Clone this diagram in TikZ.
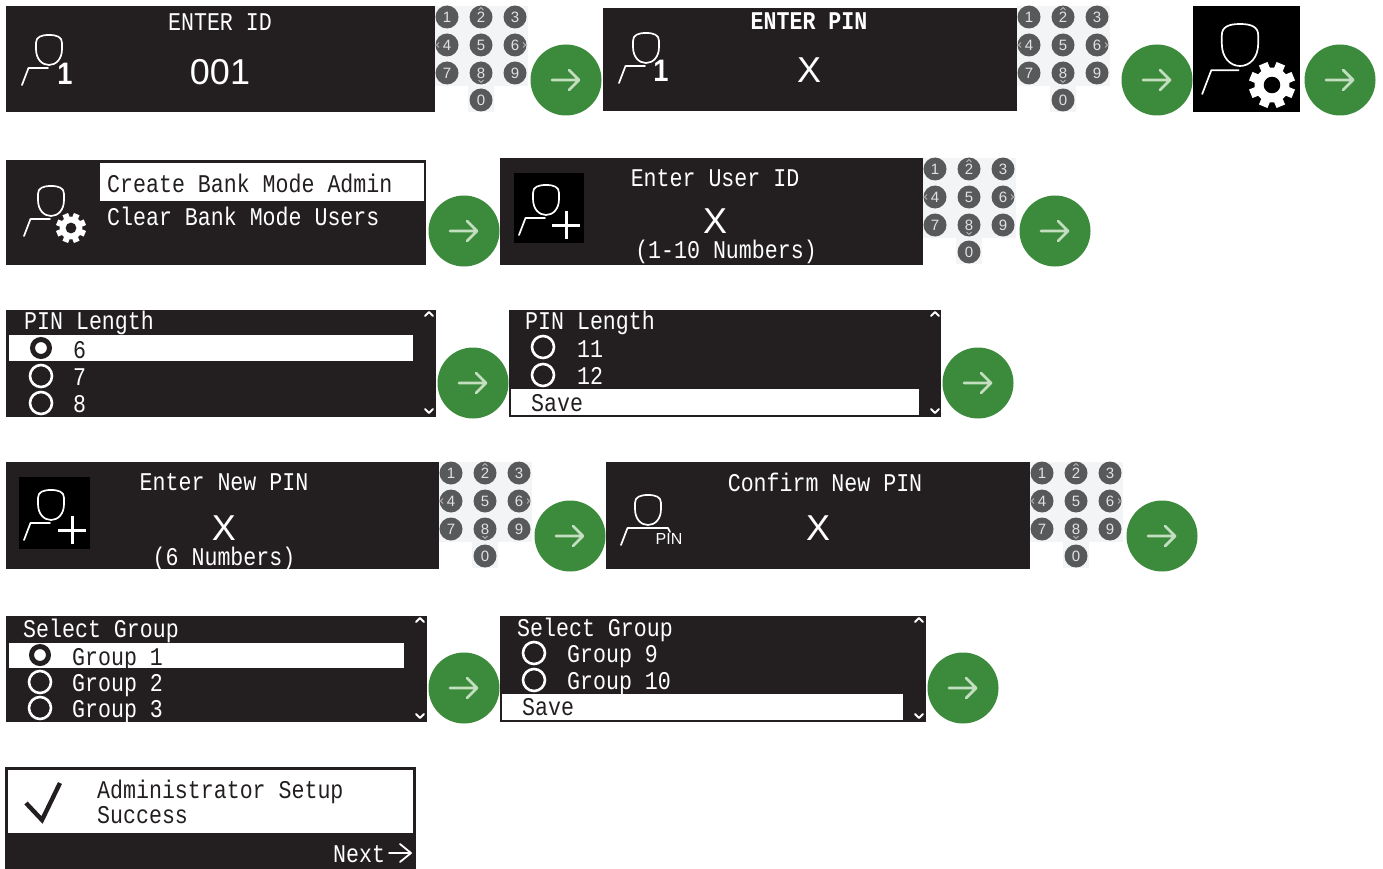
\documentclass[tikz,border=0pt]{standalone}
\usepackage{fontspec}
\setmainfont{Liberation Sans}
\newfontfamily\monof{Liberation Mono}
\definecolor{scr}{HTML}{231F20}
\definecolor{grn}{HTML}{3C8A3C}
\definecolor{arr}{HTML}{C4DFC0}
\definecolor{padbg}{HTML}{F2F4F5}
\definecolor{keyc}{HTML}{58595B}
\definecolor{dig}{HTML}{E2E2E2}
\newcounter{tn}
\tikzset{
  x=1pt,y=-1pt,
  screen/.style={fill=scr},
  hilite/.style={fill=white},
  monot/.style={font=\monof\fontsize{21.6}{24}\selectfont,inner sep=0pt,yscale=1.18,transform shape},
  bigt/.style={font=\fontsize{36}{40}\selectfont,inner sep=0pt,text=white},
  onet/.style={font=\bfseries\fontsize{31}{33}\selectfont,text=white,inner sep=0pt,xscale=.88,transform shape},
  ico/.style={draw=white,line width=1.7pt,line cap=round,line join=round},
  radio/.style={draw=white,line width=2.6pt},
  radiosel/.style={draw=scr,line width=5pt,fill=white},
  caret/.style={draw=white,line width=1.9pt,line cap=round,line join=round},
  keyt/.style={font=\fontsize{15}{16}\selectfont,inner sep=0pt,text=dig},
}
\newcommand\ml[4][white]{\stepcounter{tn}\node[monot,text=#1,anchor=base west] (t\arabic{tn}) at (#2,#3+8) {#4};}
\newcommand\mc[3]{\stepcounter{tn}\node[monot,text=white,anchor=base] (t\arabic{tn}) at (#1,#2+8) {#3};}
\newcommand\bigc[3]{\stepcounter{tn}\node[bigt,anchor=base] (t\arabic{tn}) at (#1,#2+13) {#3};}
\newcommand\person[3]{\begin{scope}[shift={(#1,#2)},scale=#3]
 \draw[ico] (-13,8) .. controls (-13,2) and (-8,0) .. (0,0) .. controls (8,0) and (13,2) .. (13,8) -- (13,14) .. controls (13,24) and (7,30) .. (0,30) .. controls (-7,30) and (-13,24) .. (-13,14) -- cycle;
 \draw[ico] (-27,50) -- (-20.5,33) -- (-1,33);
\end{scope}}
\newcommand\gear[4]{%
 \begin{scope}[shift={(#1,#2)},scale=#3]
 \fill[white] (0,0) circle (0.76);
 \foreach \a in {0,45,...,315}{\fill[white,rotate=\a+22.5] (-0.2,-1) rectangle (0.2,0);}
 \fill[#4] (0,0) circle (0.36);
 \end{scope}}
\newcommand\plusico[2]{\draw[white,line width=3pt] (#1-14,#2) -- (#1+14,#2) (#1,#2-14) -- (#1,#2+14);}
\newcommand\greenarrow[2]{\fill[grn] (#1,#2) circle (35.5);
 \draw[arr,line width=2.8pt,line cap=round,line join=round] (#1-14,#2) -- (#1+13,#2) (#1+3,#2-10) -- (#1+13,#2) -- (#1+3,#2+10);}
\newcommand\onekey[3]{\fill[keyc] (#1,#2) circle (11.5);
 \stepcounter{tn}\node[keyt] (t\arabic{tn}) at (#1,#2+.6) {#3};}
\newcommand\keypad[2]{%
 \fill[padbg] (#1-12,#2-11) rectangle (#1+81,#2+69);
 \fill[padbg] (#1+21,#2+69) rectangle (#1+47,#2+95);
 \onekey{#1}{#2}{1}\onekey{#1+34}{#2}{2}\onekey{#1+68}{#2}{3}
 \onekey{#1}{#2+28}{4}\onekey{#1+34}{#2+28}{5}\onekey{#1+68}{#2+28}{6}
 \onekey{#1}{#2+56}{7}\onekey{#1+34}{#2+56}{8}\onekey{#1+68}{#2+56}{9}
 \onekey{#1+34}{#2+83}{0}
 \draw[dig,line width=.5pt] (#1+31.5,#2-7) -- (#1+34,#2-9.5) -- (#1+36.5,#2-7)
   (#1+31.5,#2+63) -- (#1+34,#2+65.5) -- (#1+36.5,#2+63)
   (#1-8,#2+25.5) -- (#1-10.5,#2+28) -- (#1-8,#2+30.5)
   (#1+76,#2+25.5) -- (#1+78.5,#2+28) -- (#1+76,#2+30.5);}
\newcommand\carets[3]{\draw[caret] (#1-4,#2+2) -- (#1,#2-2) -- (#1+4,#2+2) (#1-4,#3-2) -- (#1,#3+2) -- (#1+4,#3-2);}
\begin{document}
\begin{tikzpicture}
\useasboundingbox (0,0) rectangle (1383,869);
\fill[white] (0,0) rectangle (1383,869);
% row 1
\fill[screen] (6,6) rectangle (435,112);
\person{49}{35}{1}
\stepcounter{tn}\node[onet] (t\arabic{tn}) at (65,74) {1};
\mc{220}{23}{ENTER ID}
\bigc{220}{72}{001}
\keypad{447}{17}
\greenarrow{566}{80}
\fill[screen] (603,8) rectangle (1017,111);
\person{646}{33}{1}
\stepcounter{tn}\node[onet] (t\arabic{tn}) at (661,71) {1};
\mc{809}{22}{\bfseries ENTER PIN}
\bigc{809}{70}{X}
\keypad{1029}{17}
\greenarrow{1157}{80}
\fill[black] (1193,6) rectangle (1300,112);
\person{1240}{24}{1.4}
\gear{1272}{85}{23}{black}
\greenarrow{1340}{80}
% row 2
\fill[screen] (6,160) rectangle (426,265);
\fill[hilite] (100,163) rectangle (424,201);
\ml[scr]{107}{185}{Create Bank Mode Admin}
\ml{107}{217}{Clear Bank Mode Users}
\person{51}{186}{1}
\gear{71}{228}{15}{scr}
\greenarrow{464}{231}
\fill[screen] (500,158) rectangle (923,265);
\fill[black] (514,173) rectangle (584,243);
\person{546}{185}{1}
\plusico{566}{225}
\mc{715}{178}{Enter User ID}
\bigc{715}{220}{X}
\mc{726}{250}{(1-10 Numbers)}
\keypad{935}{169}
\greenarrow{1055}{231}
% row 3
\fill[screen] (6,310) rectangle (436,417);
\fill[hilite] (9,335) rectangle (413,361);
\ml{24}{321}{PIN Length}
\draw[radiosel] (41,348) circle (8.5);
\draw[radio] (41,376) circle (11);
\draw[radio] (41,403) circle (11);
\ml[scr]{73}{350}{6}
\ml{73}{377}{7}
\ml{73}{404}{8}
\carets{429}{314}{411}
\greenarrow{473}{383}
\fill[screen] (509,310) rectangle (941,417);
\ml{525}{321}{PIN Length}
\draw[radio] (543,347) circle (11);
\draw[radio] (543,375) circle (11);
\ml{577}{349}{11}
\ml{577}{376}{12}
\fill[hilite] (511,389) rectangle (919,415);
\ml[scr]{531}{403}{Save}
\carets{935}{314}{411}
\greenarrow{978}{383}
% row 4
\fill[screen] (6,462) rectangle (439,569);
\fill[black] (19,477) rectangle (90,549);
\person{51}{490}{1}
\plusico{72}{530}
\mc{224}{482}{Enter New PIN}
\bigc{224}{527}{X}
\mc{224}{557}{(6 Numbers)}
\keypad{451}{473}
\greenarrow{570}{536}
\fill[screen] (606,462) rectangle (1030,569);
\begin{scope}[shift={(648,495)}]
 \draw[ico] (-13,8) .. controls (-13,2) and (-8,0) .. (0,0) .. controls (8,0) and (13,2) .. (13,8) -- (13,14) .. controls (13,24) and (7,30) .. (0,30) .. controls (-7,30) and (-13,24) .. (-13,14) -- cycle;
 \draw[ico] (-27,50) -- (-20.5,33) -- (20,33) -- (22,37);
\end{scope}
\stepcounter{tn}\node[font=\fontsize{16}{18}\selectfont,text=white,inner sep=0pt] (t\arabic{tn}) at (669,539) {PIN};
\mc{825}{483}{Confirm New PIN}
\bigc{818}{527}{X}
\keypad{1042}{473}
\greenarrow{1162}{536}
% row 5
\fill[screen] (6,616) rectangle (427,722);
\fill[hilite] (9,643) rectangle (404,668);
\ml{23}{629}{Select Group}
\draw[radiosel] (40,655) circle (8.5);
\draw[radio] (40,682) circle (11);
\draw[radio] (40,708) circle (11);
\ml[scr]{72}{657}{Group 1}
\ml{72}{683}{Group 2}
\ml{72}{709}{Group 3}
\carets{420}{620}{716}
\greenarrow{464}{688}
\fill[screen] (500,616) rectangle (926,722);
\ml{517}{628}{Select Group}
\draw[radio] (534,653) circle (11);
\draw[radio] (534,680) circle (11);
\ml{567}{654}{Group 9}
\ml{567}{681}{Group 10}
\fill[hilite] (502,694) rectangle (903,720);
\ml[scr]{522}{707}{Save}
\carets{919}{620}{716}
\greenarrow{963}{688}
% row 6
\fill[screen] (5,767) rectangle (416,869);
\fill[hilite] (8,770) rectangle (413,833);
\draw[scr,line width=4.4pt] (26,803) -- (42,820) -- (60,783);
\ml[scr]{97}{790}{Administrator Setup}
\ml[scr]{97}{815}{Success}
\ml{333}{854}{Next}
\draw[white,line width=1.8pt,line cap=round,line join=round] (389,853) -- (411,853) (400,844) -- (411,853) -- (400,862);
\end{tikzpicture}
\end{document}
